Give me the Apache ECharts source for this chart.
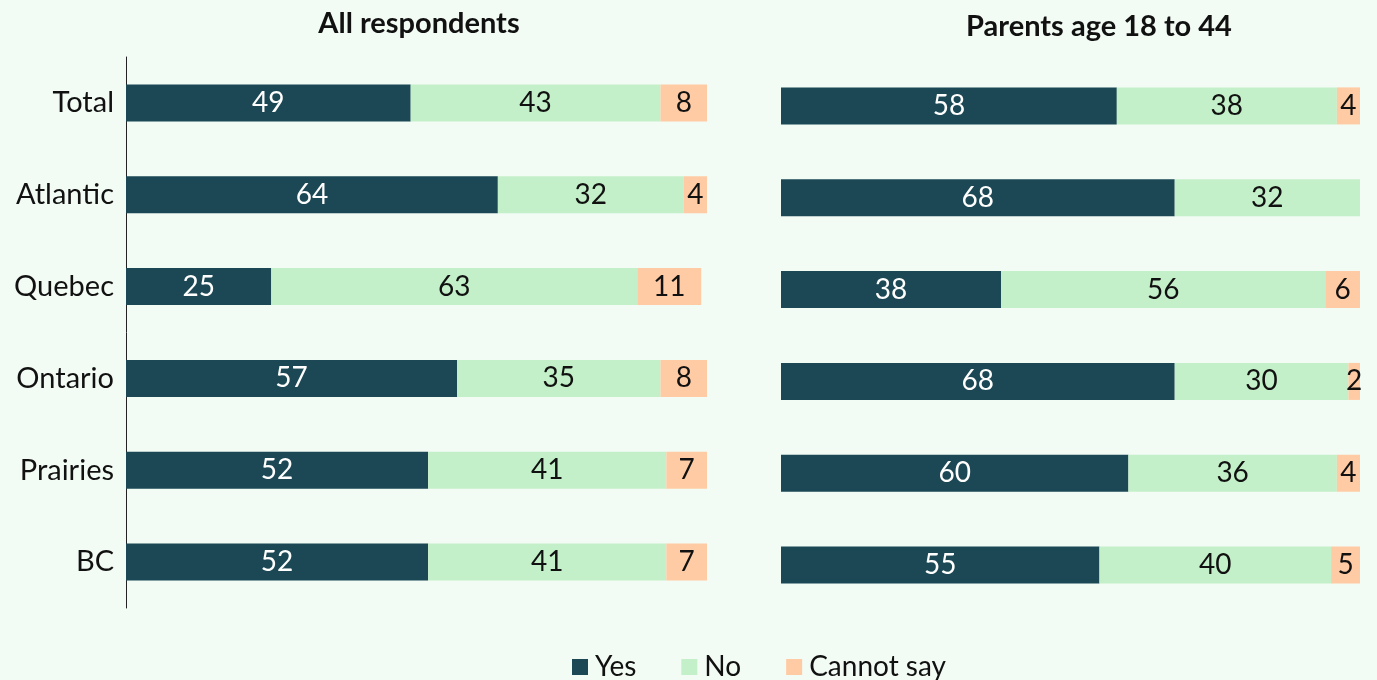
<!DOCTYPE html>
<html>
<head>
<meta charset="utf-8">
<title>Survey by region</title>
<script src="https://cdn.jsdelivr.net/npm/echarts@6/dist/echarts.min.js"></script>
<style>
  html, body { margin: 0; padding: 0; background: #f2fbf4; }
  #chart { width: 1377px; height: 680px; }
</style>
</head>
<body>
<div id="chart"></div>
<script>
// Regions, top to bottom
const regions = ['Total', 'Atlantic', 'Quebec', 'Ontario', 'Prairies', 'BC'];

// All respondents (%)
const allYes = [49, 64, 25, 57, 52, 52];
const allNo = [43, 32, 63, 35, 41, 41];
const allCannot = [8, 4, 11, 8, 7, 7];

// Parents age 18 to 44 (%)
const parYes = [58, 68, 38, 68, 60, 55];
const parNo = [38, 32, 56, 30, 36, 40];
const parCannot = [4, 0, 6, 2, 4, 5];

const panelTitles = ['All respondents', 'Parents age 18 to 44'];

const FONT = 'Lato, "Open Sans", sans-serif';
const colors = { yes: '#1b4854', no: '#c3f0c8', cannot: '#ffcba4' };

function seriesFor(name, data, color, textColor, idx) {
  return {
    name: name,
    type: 'bar',
    stack: 'p' + idx,
    xAxisIndex: idx,
    yAxisIndex: idx,
    barWidth: 37,
    data: data,
    itemStyle: { color: color },
    label: {
      show: true,
      position: 'inside',
      color: textColor,
      fontFamily: FONT,
      fontSize: 28,
      formatter: p => (p.value ? String(p.value) : '')
    }
  };
}

const chart = echarts.init(document.getElementById('chart'));
chart.setOption({
  backgroundColor: '#f2fbf4',
  animation: false,
  title: [
    { text: panelTitles[0], left: 414, top: 4, textAlign: 'center',
      textStyle: { fontFamily: FONT, fontWeight: 'bold', fontSize: 29, color: '#111' } },
    { text: panelTitles[1], left: 1094, top: 7, textAlign: 'center',
      textStyle: { fontFamily: FONT, fontWeight: 'bold', fontSize: 29, color: '#111' } }
  ],
  grid: [
    { left: 126, top: 57, width: 581, height: 551 },
    { left: 781, top: 60, width: 579, height: 551 }
  ],
  xAxis: [
    { gridIndex: 0, type: 'value', min: 0, max: 100, show: false },
    { gridIndex: 1, type: 'value', min: 0, max: 100, show: false }
  ],
  yAxis: [
    { gridIndex: 0, type: 'category', data: regions, inverse: true,
      axisLine: { show: true, lineStyle: { color: '#222', width: 1 } },
      axisTick: { show: false },
      axisLabel: { color: '#111', fontFamily: FONT, fontSize: 29, margin: 12 } },
    { gridIndex: 1, type: 'category', data: regions, inverse: true,
      axisLine: { show: false }, axisTick: { show: false }, axisLabel: { show: false } }
  ],
  legend: {
    left: 567, top: 648,
    itemWidth: 16, itemHeight: 16, itemGap: 45,
    icon: 'rect',
    textStyle: { fontFamily: FONT, fontSize: 28, color: '#111', padding: [0, 0, 0, 2] },
    data: ['Yes', 'No', 'Cannot say']
  },
  series: [
    seriesFor('Yes', allYes, colors.yes, '#fff', 0),
    seriesFor('No', allNo, colors.no, '#111', 0),
    seriesFor('Cannot say', allCannot, colors.cannot, '#111', 0),
    seriesFor('Yes', parYes, colors.yes, '#fff', 1),
    seriesFor('No', parNo, colors.no, '#111', 1),
    seriesFor('Cannot say', parCannot, colors.cannot, '#111', 1)
  ]
});
</script>
</body>
</html>
